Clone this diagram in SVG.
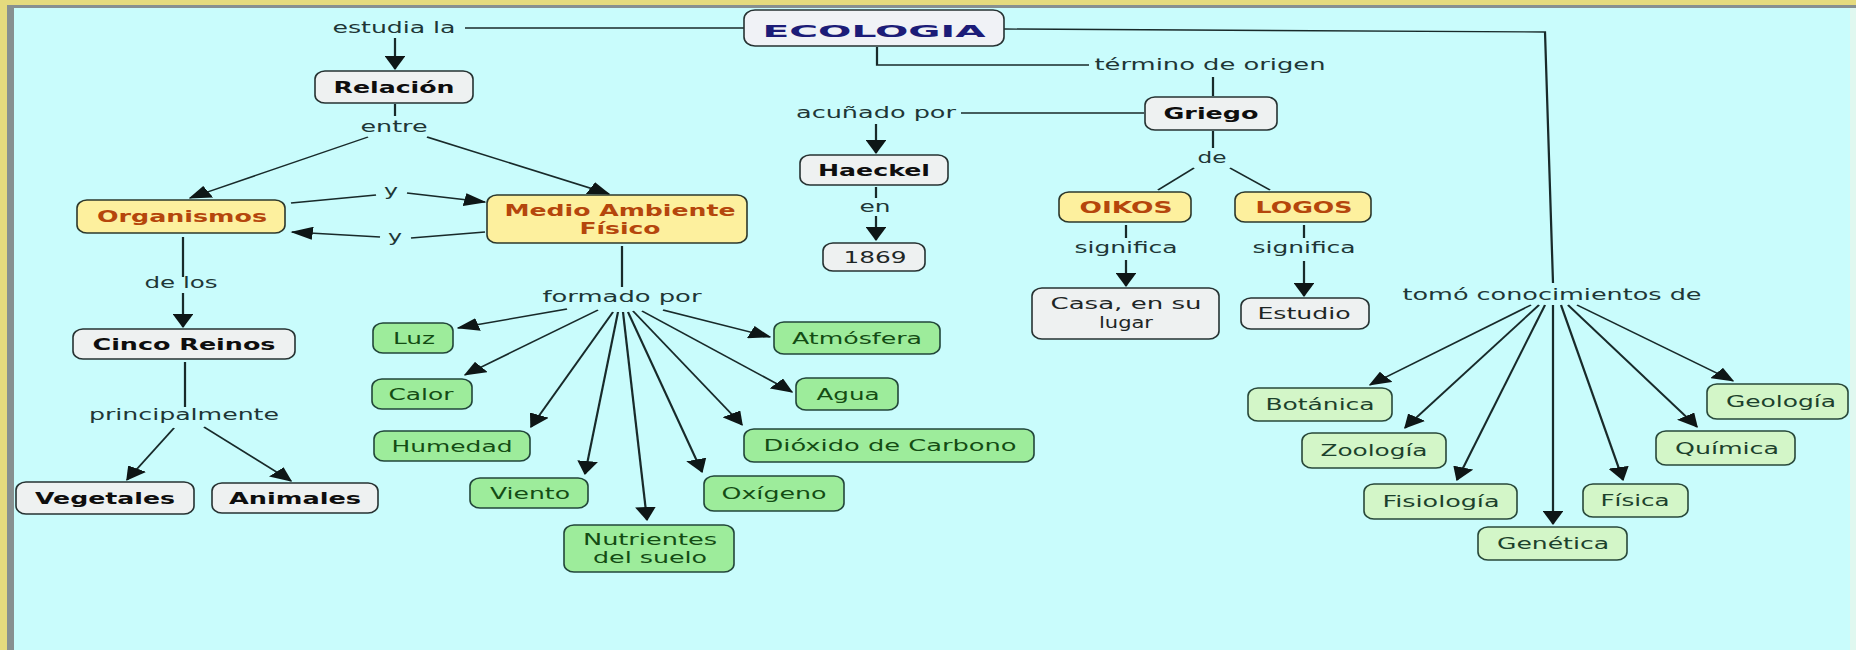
<svg xmlns="http://www.w3.org/2000/svg" width="1856" height="650" viewBox="0 0 1856 650">
  <style>
    .lk { font-family: "DejaVu Sans", Verdana, sans-serif; font-size: 16px; fill: #203636; text-anchor: middle; }
    .nt { font-family: "DejaVu Sans", Verdana, sans-serif; font-size: 16px; text-anchor: middle; }
    .b { font-weight: bold; }
    .bx-g { fill: #eef1f1; stroke: #263232; stroke-width: 1.6; }
    .bx-y { fill: #fdf09e; stroke: #2c382c; stroke-width: 1.6; }
    .bx-lg { fill: #9dec9b; stroke: #22463a; stroke-width: 1.6; }
    .bx-pg { fill: #d3f6c8; stroke: #28483a; stroke-width: 1.6; }
    .t-k { fill: #0e0e0e; }
    .t-n { fill: #1e2626; }
    .t-o { fill: #b5460c; }
    .t-lg { fill: #144c14; }
    .t-pg { fill: #1c412c; }
    .cn { fill: none; stroke: #182a2a; stroke-width: 1.4; }
    .ar { marker-end: url(#ah); }
  </style>
  <defs>
    <marker id="ah" viewBox="0 0 14 13" refX="13" refY="6.5" markerWidth="14" markerHeight="13" markerUnits="userSpaceOnUse" orient="auto">
      <path d="M0,0 L14,6.5 L0,13 Z" fill="#0e1616"/>
    </marker>
  </defs>

  <!-- frame and background -->
  <rect width="1856" height="650" fill="#e5db7e"/>
  <rect x="7" y="5" width="1849" height="645" fill="#879090"/>
  <rect x="14" y="8" width="1836" height="642" fill="#c9fcfc"/>
  <rect x="1850" y="8" width="6" height="642" fill="#e0f8f0"/>

  <!-- connectors (drawn in a horizontally stretched space: x = X / 1.6) -->
  <g id="connectors" transform="scale(1.6 1)">
    <path class="cn" d="M290.625,28 L465,28"/>
    <path class="cn ar" d="M246.875,38 L246.875,69"/>
    <path class="cn" d="M246.875,104 L246.875,116"/>
    <path class="cn ar" d="M230,137 L118.75,198"/>
    <path class="cn ar" d="M266.875,137 L380.625,194"/>
    <path class="cn" d="M181.875,203 L235,195"/>
    <path class="cn ar" d="M254.375,193 L303.125,202"/>
    <path class="cn" d="M303.125,232 L256.875,238"/>
    <path class="cn ar" d="M237.5,237 L182.5,232"/>
    <path class="cn" d="M114.375,237 L114.375,277"/>
    <path class="cn ar" d="M114.375,293 L114.375,327"/>
    <path class="cn" d="M115.625,362 L115.625,407"/>
    <path class="cn ar" d="M108.75,428 L79.375,480"/>
    <path class="cn ar" d="M127.5,427 L181.875,481"/>
    <path class="cn" d="M388.75,246 L388.75,287"/>
    <path class="cn ar" d="M354.375,309 L286.25,328"/>
    <path class="cn ar" d="M373.75,310 L290.625,375"/>
    <path class="cn ar" d="M383.125,312 L331.875,427"/>
    <path class="cn ar" d="M386.25,312 L365.625,474"/>
    <path class="cn ar" d="M389.375,312 L404.375,520"/>
    <path class="cn ar" d="M392.5,312 L438.75,472"/>
    <path class="cn ar" d="M395.625,311 L463.75,425"/>
    <path class="cn ar" d="M401.25,311 L495,392"/>
    <path class="cn ar" d="M414.375,310 L481.25,337"/>
    <path class="cn" d="M548.125,47 L548.125,65 L680.625,65"/>
    <path class="cn" d="M758.125,77 L758.125,96"/>
    <path class="cn" d="M715,113 L600.625,113"/>
    <path class="cn ar" d="M547.5,124 L547.5,153"/>
    <path class="cn" d="M547.5,187 L547.5,198"/>
    <path class="cn ar" d="M547.5,216 L547.5,240"/>
    <path class="cn" d="M758.125,131 L758.125,148"/>
    <path class="cn" d="M746.25,168 L723.75,190"/>
    <path class="cn" d="M768.75,168 L793.75,190"/>
    <path class="cn" d="M703.75,225 L703.75,238"/>
    <path class="cn ar" d="M703.75,260 L703.75,286"/>
    <path class="cn" d="M815,225 L815,238"/>
    <path class="cn ar" d="M815,261 L815,296"/>
    <path class="cn" d="M627.5,29 L965.625,32 L970.625,283"/>
    <path class="cn ar" d="M956.875,305 L856.25,385"/>
    <path class="cn ar" d="M961.875,305 L878.125,428"/>
    <path class="cn ar" d="M965.625,305 L910.625,480"/>
    <path class="cn ar" d="M970.625,305 L970.625,524"/>
    <path class="cn ar" d="M975.625,305 L1014.375,480"/>
    <path class="cn ar" d="M980,305 L1060.625,427"/>
    <path class="cn ar" d="M985.625,305 L1083.125,381"/>
  </g>

  <!-- linking phrases -->
  <g id="labels">
    <text class="lk" x="394" y="33" textLength="123" lengthAdjust="spacingAndGlyphs">estudia la</text>
    <text class="lk" x="394" y="132" textLength="67" lengthAdjust="spacingAndGlyphs">entre</text>
    <text class="lk" x="391" y="196" textLength="14" lengthAdjust="spacingAndGlyphs">y</text>
    <text class="lk" x="395" y="242" textLength="14" lengthAdjust="spacingAndGlyphs">y</text>
    <text class="lk" x="622" y="302" textLength="159" lengthAdjust="spacingAndGlyphs">formado por</text>
    <text class="lk" x="181" y="288" textLength="73" lengthAdjust="spacingAndGlyphs">de los</text>
    <text class="lk" x="184" y="420" textLength="190" lengthAdjust="spacingAndGlyphs">principalmente</text>
    <text class="lk" x="1210" y="70" textLength="231" lengthAdjust="spacingAndGlyphs">término de origen</text>
    <text class="lk" x="876" y="118" textLength="160" lengthAdjust="spacingAndGlyphs">acuñado por</text>
    <text class="lk" x="875" y="212" textLength="31" lengthAdjust="spacingAndGlyphs">en</text>
    <text class="lk" x="1212" y="163" textLength="29" lengthAdjust="spacingAndGlyphs">de</text>
    <text class="lk" x="1126" y="253" textLength="103" lengthAdjust="spacingAndGlyphs">significa</text>
    <text class="lk" x="1304" y="253" textLength="103" lengthAdjust="spacingAndGlyphs">significa</text>
    <text class="lk" x="1552" y="300" textLength="299" lengthAdjust="spacingAndGlyphs">tomó conocimientos de</text>
  </g>

  <!-- concepts -->
  <g id="n-ecologia">
    <rect class="bx-g" x="744" y="10" width="260" height="36" rx="11" ry="9" style="fill:#f0f2f6"/>
    <text class="nt b" x="874" y="37" font-size="24" fill="#1c1c78" textLength="223" lengthAdjust="spacingAndGlyphs">ECOLOGIA</text>
  </g>
  <g id="n-relacion">
    <rect class="bx-g" x="315" y="71" width="158" height="32" rx="10" ry="8"/>
    <text class="nt b t-k" x="394" y="93" textLength="121" lengthAdjust="spacingAndGlyphs">Relación</text>
  </g>
  <g id="n-organismos">
    <rect class="bx-y" x="77" y="200" width="208" height="33" rx="10" ry="8"/>
    <text class="nt b t-o" x="182" y="222" textLength="170" lengthAdjust="spacingAndGlyphs">Organismos</text>
  </g>
  <g id="n-medio">
    <rect class="bx-y" x="487" y="195" width="260" height="48" rx="10" ry="8"/>
    <text class="nt b t-o" x="620" y="216" textLength="231" lengthAdjust="spacingAndGlyphs">Medio Ambiente</text>
    <text class="nt b t-o" x="620" y="234" textLength="81" lengthAdjust="spacingAndGlyphs">Físico</text>
  </g>
  <g id="n-luz">
    <rect class="bx-lg" x="373" y="323" width="80" height="30" rx="10" ry="8"/>
    <text class="nt t-lg" x="414" y="344" textLength="42" lengthAdjust="spacingAndGlyphs">Luz</text>
  </g>
  <g id="n-calor">
    <rect class="bx-lg" x="372" y="379" width="100" height="30" rx="10" ry="8"/>
    <text class="nt t-lg" x="421" y="400" textLength="65" lengthAdjust="spacingAndGlyphs">Calor</text>
  </g>
  <g id="n-humedad">
    <rect class="bx-lg" x="374" y="431" width="156" height="30" rx="10" ry="8"/>
    <text class="nt t-lg" x="452" y="452" textLength="121" lengthAdjust="spacingAndGlyphs">Humedad</text>
  </g>
  <g id="n-viento">
    <rect class="bx-lg" x="470" y="478" width="118" height="30" rx="10" ry="8"/>
    <text class="nt t-lg" x="530" y="499" textLength="80" lengthAdjust="spacingAndGlyphs">Viento</text>
  </g>
  <g id="n-nutrientes">
    <rect class="bx-lg" x="564" y="525" width="170" height="47" rx="10" ry="8"/>
    <text class="nt t-lg" x="650" y="545" textLength="134" lengthAdjust="spacingAndGlyphs">Nutrientes</text>
    <text class="nt t-lg" x="650" y="563" textLength="114" lengthAdjust="spacingAndGlyphs">del suelo</text>
  </g>
  <g id="n-oxigeno">
    <rect class="bx-lg" x="704" y="476" width="140" height="35" rx="10" ry="8"/>
    <text class="nt t-lg" x="774" y="499" textLength="105" lengthAdjust="spacingAndGlyphs">Oxígeno</text>
  </g>
  <g id="n-dioxido">
    <rect class="bx-lg" x="744" y="429" width="290" height="33" rx="10" ry="8"/>
    <text class="nt t-lg" x="890" y="451" textLength="253" lengthAdjust="spacingAndGlyphs">Dióxido de Carbono</text>
  </g>
  <g id="n-agua">
    <rect class="bx-lg" x="796" y="378" width="102" height="32" rx="10" ry="8"/>
    <text class="nt t-lg" x="848" y="400" textLength="63" lengthAdjust="spacingAndGlyphs">Agua</text>
  </g>
  <g id="n-atmosfera">
    <rect class="bx-lg" x="774" y="322" width="166" height="32" rx="10" ry="8"/>
    <text class="nt t-lg" x="857" y="344" textLength="130" lengthAdjust="spacingAndGlyphs">Atmósfera</text>
  </g>
  <g id="n-cinco-reinos">
    <rect class="bx-g" x="73" y="329" width="222" height="30" rx="10" ry="8"/>
    <text class="nt b t-k" x="184" y="350" textLength="183" lengthAdjust="spacingAndGlyphs">Cinco Reinos</text>
  </g>
  <g id="n-vegetales">
    <rect class="bx-g" x="16" y="482" width="178" height="32" rx="10" ry="8"/>
    <text class="nt b t-k" x="105" y="504" textLength="140" lengthAdjust="spacingAndGlyphs">Vegetales</text>
  </g>
  <g id="n-animales">
    <rect class="bx-g" x="212" y="483" width="166" height="30" rx="10" ry="8"/>
    <text class="nt b t-k" x="295" y="504" textLength="132" lengthAdjust="spacingAndGlyphs">Animales</text>
  </g>
  <g id="n-griego">
    <rect class="bx-g" x="1145" y="97" width="132" height="33" rx="10" ry="8"/>
    <text class="nt b t-k" x="1211" y="119" textLength="95" lengthAdjust="spacingAndGlyphs">Griego</text>
  </g>
  <g id="n-haeckel">
    <rect class="bx-g" x="800" y="155" width="148" height="30" rx="10" ry="8"/>
    <text class="nt b t-k" x="874" y="176" textLength="112" lengthAdjust="spacingAndGlyphs">Haeckel</text>
  </g>
  <g id="n-1869">
    <rect class="bx-g" x="823" y="243" width="102" height="28" rx="10" ry="8"/>
    <text class="nt t-n" x="875" y="263" textLength="63" lengthAdjust="spacingAndGlyphs">1869</text>
  </g>
  <g id="n-oikos">
    <rect class="bx-y" x="1059" y="192" width="132" height="30" rx="10" ry="8"/>
    <text class="nt b t-o" x="1126" y="213" textLength="93" lengthAdjust="spacingAndGlyphs">OIKOS</text>
  </g>
  <g id="n-logos">
    <rect class="bx-y" x="1235" y="192" width="136" height="30" rx="10" ry="8"/>
    <text class="nt b t-o" x="1304" y="213" textLength="97" lengthAdjust="spacingAndGlyphs">LOGOS</text>
  </g>
  <g id="n-casa">
    <rect class="bx-g" x="1032" y="288" width="187" height="51" rx="10" ry="8"/>
    <text class="nt t-n" x="1126" y="309" textLength="151" lengthAdjust="spacingAndGlyphs">Casa, en su</text>
    <text class="nt t-n" x="1126" y="328" textLength="54" lengthAdjust="spacingAndGlyphs">lugar</text>
  </g>
  <g id="n-estudio">
    <rect class="bx-g" x="1241" y="298" width="128" height="31" rx="10" ry="8"/>
    <text class="nt t-n" x="1304" y="319" textLength="93" lengthAdjust="spacingAndGlyphs">Estudio</text>
  </g>
  <g id="n-botanica">
    <rect class="bx-pg" x="1248" y="388" width="144" height="33" rx="10" ry="8"/>
    <text class="nt t-pg" x="1320" y="410" textLength="109" lengthAdjust="spacingAndGlyphs">Botánica</text>
  </g>
  <g id="n-zoologia">
    <rect class="bx-pg" x="1302" y="433" width="144" height="35" rx="10" ry="8"/>
    <text class="nt t-pg" x="1374" y="456" textLength="107" lengthAdjust="spacingAndGlyphs">Zoología</text>
  </g>
  <g id="n-fisiologia">
    <rect class="bx-pg" x="1364" y="484" width="153" height="35" rx="10" ry="8"/>
    <text class="nt t-pg" x="1441" y="507" textLength="117" lengthAdjust="spacingAndGlyphs">Fisiología</text>
  </g>
  <g id="n-genetica">
    <rect class="bx-pg" x="1478" y="527" width="149" height="33" rx="10" ry="8"/>
    <text class="nt t-pg" x="1553" y="549" textLength="112" lengthAdjust="spacingAndGlyphs">Genética</text>
  </g>
  <g id="n-fisica">
    <rect class="bx-pg" x="1583" y="484" width="105" height="33" rx="10" ry="8"/>
    <text class="nt t-pg" x="1635" y="506" textLength="69" lengthAdjust="spacingAndGlyphs">Física</text>
  </g>
  <g id="n-quimica">
    <rect class="bx-pg" x="1656" y="431" width="139" height="34" rx="10" ry="8"/>
    <text class="nt t-pg" x="1727" y="454" textLength="104" lengthAdjust="spacingAndGlyphs">Química</text>
  </g>
  <g id="n-geologia">
    <rect class="bx-pg" x="1707" y="384" width="141" height="35" rx="10" ry="8"/>
    <text class="nt t-pg" x="1781" y="407" textLength="110" lengthAdjust="spacingAndGlyphs">Geología</text>
  </g>
</svg>
